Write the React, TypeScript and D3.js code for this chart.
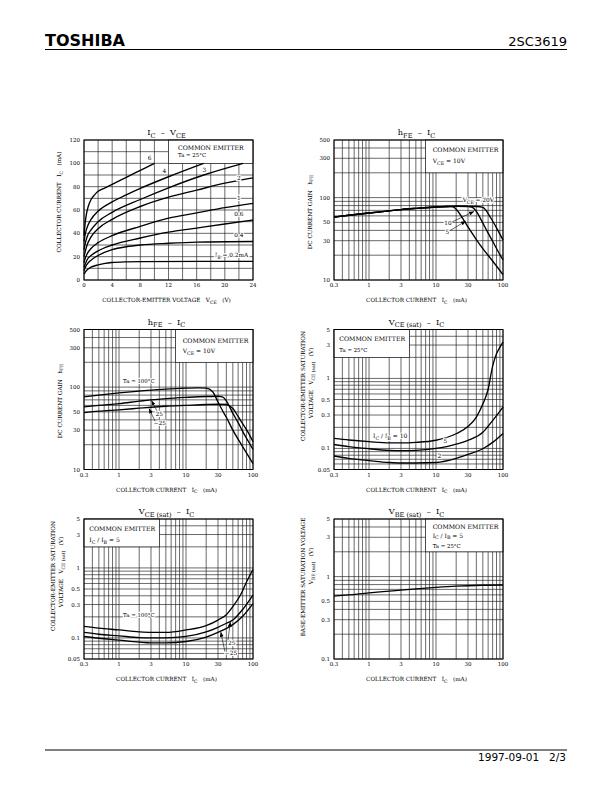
import React from "react";
import * as d3 from "d3";

type Pt = [number, number];
type Part = string | { sub: string };

const SERIF = "'DejaVu Serif', 'Liberation Serif', serif";
const SANS = "'DejaVu Sans', Verdana, sans-serif";

// ---- IC - VCE, points are [VCE (V), IC (mA)] ----
const vceTicks = [0, 4, 8, 12, 16, 20, 24];
const icMaTicks = [0, 20, 40, 60, 80, 100, 120];
const vceGrid = [0, 2, 4, 6, 8, 10, 12, 14, 16, 18, 20, 22, 24];
const icMaGrid = [0, 10, 20, 30, 40, 50, 60, 70, 80, 90, 100, 110, 120];
const ib6: Pt[] = [[0, 38], [0.15, 48], [0.3, 55], [0.6, 63], [1, 69], [1.5, 73], [2, 76], [3, 79], [4, 82], [6, 88], [8, 94], [10, 100]];
const ib4: Pt[] = [[0, 33], [0.2, 40], [0.5, 46], [1, 52], [2, 59], [4, 67], [6, 73], [8, 78.5], [12, 88.5], [17, 100]];
const ib3: Pt[] = [[0, 26], [0.2, 32], [0.5, 38], [1, 43], [2, 50], [4, 58], [8, 69], [12, 79], [17, 90], [22.6, 100]];
const ib2: Pt[] = [[0, 20], [0.2, 25], [0.5, 31], [1, 37], [2, 44], [4, 52], [8, 63], [12, 71], [16, 77], [20, 83], [24, 87.5]];
const ib1: Pt[] = [[0, 15], [0.2, 19], [0.5, 23], [1, 27], [2, 32], [4, 38], [8, 46], [12, 53], [16, 57.5], [20, 62], [24, 65.7]];
const ib06: Pt[] = [[0, 11], [0.2, 14], [0.5, 18], [1, 21], [2, 25], [4, 30], [8, 36], [12, 41], [16, 44.5], [20, 48], [24, 51.4]];
const ib04: Pt[] = [[0, 8], [0.2, 11], [0.5, 14], [1, 17], [2, 21], [4, 26], [6, 28.5], [8, 30], [12, 31.5], [16, 32.5], [24, 33]];
const ib02: Pt[] = [[0, 5], [0.2, 7], [0.5, 9], [1, 11], [2, 13], [3, 14.3], [4, 15], [6, 15.6], [8, 15.8], [24, 16]];

// ---- log axes ----
const icTicks = [0.3, 1, 3, 10, 30, 100];
const icGrid = [0.3, 0.4, 0.5, 0.6, 0.7, 0.8, 0.9, 1, 2, 3, 4, 5, 6, 7, 8, 9, 10, 20, 30, 40, 50, 60, 70, 80, 90, 100];
const hfeTicks = [10, 30, 50, 100, 300, 500];
const hfeGrid = [10, 20, 30, 40, 50, 60, 70, 80, 90, 100, 200, 300, 400, 500];
const vsatTicks = [0.05, 0.1, 0.3, 0.5, 1, 3, 5];
const vsatGrid = [0.05, 0.06, 0.07, 0.08, 0.09, 0.1, 0.2, 0.3, 0.4, 0.5, 0.6, 0.7, 0.8, 0.9, 1, 2, 3, 4, 5];
const vbeTicks = [0.1, 0.3, 0.5, 1, 3, 5];
const vbeGrid = [0.1, 0.2, 0.3, 0.4, 0.5, 0.6, 0.7, 0.8, 0.9, 1, 2, 3, 4, 5];

// hFE - IC by VCE, [IC (mA), hFE]
const hfeVce5: Pt[] = [[0.3, 58], [0.5, 61], [1, 65], [2, 69], [3, 71.5], [5, 74], [10, 77], [15, 78], [18, 77], [20, 72], [25, 56], [30, 44], [40, 31], [50, 24], [70, 17], [100, 11.6]];
const hfeVce10: Pt[] = [[0.3, 58], [0.5, 61], [1, 65], [2, 69], [3, 71.5], [5, 74], [10, 77], [15, 78], [20, 78.5], [30, 78], [35, 76], [40, 68], [50, 49], [60, 37], [70, 29.5], [85, 22], [100, 17.5]];
const hfeVce20: Pt[] = [[0.3, 58], [0.5, 61], [1, 65], [2, 69], [3, 71.5], [5, 74], [10, 77], [15, 78], [20, 78.5], [30, 78.5], [40, 78], [50, 76], [55, 71], [60, 64], [70, 52], [80, 43], [100, 30.6]];

// hFE - IC by Ta
const hfeTa100: Pt[] = [[0.3, 76], [0.5, 80], [1, 85], [2, 89.5], [3, 92], [5, 94.5], [10, 97], [15, 98], [20, 97], [25, 88], [30, 66], [35, 52], [40, 43], [50, 30], [70, 19], [100, 11.8]];
const hfeTa25: Pt[] = [[0.3, 57.5], [0.5, 60], [1, 63], [2, 67.5], [3, 70], [5, 72.5], [10, 75], [20, 77], [30, 77.5], [35, 76], [40, 68], [50, 48], [60, 37], [70, 29], [85, 22], [100, 17.5]];
const hfeTaM25: Pt[] = [[0.3, 49], [0.5, 51], [1, 53], [2, 55.5], [3, 57], [5, 58.5], [10, 60], [20, 61.5], [30, 62], [40, 61.5], [45, 59], [50, 55], [60, 44], [70, 36], [85, 28], [100, 21.7]];

// VCE(sat) - IC by IC/IB, [IC (mA), V]
const vsatR10: Pt[] = [[0.3, 0.139], [0.5, 0.132], [1, 0.125], [2, 0.12], [3, 0.12], [5, 0.122], [10, 0.131], [20, 0.162], [30, 0.205], [40, 0.28], [50, 0.43], [60, 0.7], [70, 1.5], [80, 2.25], [90, 2.8], [100, 3.3]];
const vsatR5: Pt[] = [[0.3, 0.114], [0.5, 0.106], [1, 0.099], [2, 0.094], [3, 0.093], [5, 0.094], [10, 0.1], [15, 0.107], [20, 0.115], [30, 0.13], [50, 0.17], [70, 0.25], [100, 0.39]];
const vsatR2: Pt[] = [[0.3, 0.078], [0.5, 0.072], [1, 0.067], [2, 0.063], [3, 0.062], [5, 0.062], [10, 0.063], [20, 0.072], [30, 0.082], [50, 0.099], [70, 0.122], [100, 0.164]];

// VCE(sat) - IC by Ta (IC/IB = 5)
const vsatTa100: Pt[] = [[0.3, 0.146], [0.5, 0.138], [1, 0.13], [2, 0.122], [3, 0.12], [5, 0.12], [10, 0.13], [20, 0.15], [30, 0.18], [40, 0.215], [50, 0.28], [65, 0.41], [80, 0.63], [100, 0.95]];
const vsatTa25: Pt[] = [[0.3, 0.12], [0.5, 0.113], [1, 0.107], [2, 0.101], [3, 0.1], [5, 0.1], [10, 0.105], [20, 0.122], [30, 0.142], [40, 0.162], [50, 0.18], [70, 0.255], [100, 0.41]];
const vsatTaM25: Pt[] = [[0.3, 0.105], [0.5, 0.099], [1, 0.093], [2, 0.087], [3, 0.085], [5, 0.085], [10, 0.089], [20, 0.103], [30, 0.12], [50, 0.155], [70, 0.204], [100, 0.31]];

// VBE(sat) - IC
const vbeSat: Pt[] = [[0.3, 0.58], [0.5, 0.6], [1, 0.635], [2, 0.665], [3, 0.685], [5, 0.71], [10, 0.74], [20, 0.765], [30, 0.775], [50, 0.785], [100, 0.79]];

interface Label { x: number; y: number; parts: Part[]; anchor?: string; size?: number }
interface Cfg {
  left: number; top: number; w: number; h: number;
  xLog: boolean; yLog: boolean;
  xDomain: [number, number]; yDomain: [number, number];
  xGrid: number[]; yGrid: number[]; xTicks: number[]; yTicks: number[];
  series: Pt[][];
  box: [number, number, number, number];
  legend: { dx: number; lines: { dy: number; parts: Part[]; size: number }[] };
  title: Part[];
  xTitle: Part[];
  yTitle: { dx: number; cy: number; parts: Part[] }[];
  labels: Label[];
  leaders: [number, number, number, number][];
}

function Txt({ x, y, parts, size, anchor = "start", rot = false, family = SERIF, halo = false, weight }: any) {
  const d = size * 0.32;
  let down = false;
  const kids = parts.map((p: Part, i: number) => {
    if (typeof p === "string") {
      const dy = down ? -d : 0;
      down = false;
      return <tspan key={i} dy={dy}>{p}</tspan>;
    }
    const dy = down ? 0 : d;
    down = true;
    return <tspan key={i} dy={dy} fontSize={size * 0.8}>{p.sub}</tspan>;
  });
  return (
    <text x={x} y={y} fontSize={size} textAnchor={anchor} fontFamily={family} fontWeight={weight}
      transform={rot ? `rotate(-90 ${x} ${y})` : undefined}
      stroke={halo ? "#fff" : undefined} strokeWidth={halo ? 2.2 : undefined}
      style={{ whiteSpace: "pre", paintOrder: "stroke" }} fill="#000">
      {kids}
    </text>
  );
}

function Chart({ c }: { c: Cfg }) {
  const x = (c.xLog ? d3.scaleLog() : d3.scaleLinear()).domain(c.xDomain).range([c.left, c.left + c.w]);
  const y = (c.yLog ? d3.scaleLog() : d3.scaleLinear()).domain(c.yDomain).range([c.top + c.h, c.top]);
  const line = d3.line<Pt>().x((d) => x(d[0])).y((d) => y(d[1])).curve(d3.curveMonotoneX);
  const bx0 = x(c.box[0]), bx1 = x(c.box[1]), byTop = y(c.box[3]), byBot = y(c.box[2]);
  const bottom = c.top + c.h;
  const cx = c.left + c.w / 2 - 2;
  return (
    <g>
      {c.xGrid.map((v) => (
        <line key={"gx" + v} x1={x(v)} x2={x(v)} y1={c.top} y2={bottom} stroke="#1a1a1a" strokeWidth={0.65} />
      ))}
      {c.yGrid.map((v) => (
        <line key={"gy" + v} x1={c.left} x2={c.left + c.w} y1={y(v)} y2={y(v)} stroke="#1a1a1a" strokeWidth={0.65} />
      ))}
      <rect x={bx0} y={byTop} width={bx1 - bx0} height={byBot - byTop} fill="#fff" stroke="#1a1a1a" strokeWidth={0.65} />
      <rect x={c.left} y={c.top} width={c.w} height={c.h} fill="none" stroke="#000" strokeWidth={1} />
      {c.series.map((s, i) => (
        <path key={"s" + i} d={line(s) || ""} fill="none" stroke="#000" strokeWidth={1.35} />
      ))}
      {c.leaders.map((l, i) => (
        <line key={"l" + i} x1={x(l[0])} y1={y(l[1])} x2={x(l[2])} y2={y(l[3])} stroke="#000" strokeWidth={0.6} markerEnd="url(#arr)" />
      ))}
      {c.labels.map((l, i) => (
        <Txt key={"t" + i} x={x(l.x)} y={y(l.y)} parts={l.parts} size={l.size || 5.8} anchor={l.anchor || "start"} halo />
      ))}
      {c.legend.lines.map((l, i) => (
        <Txt key={"lg" + i} x={bx0 + c.legend.dx} y={c.top + l.dy} parts={l.parts} size={l.size} />
      ))}
      {c.xTicks.map((v) => (
        <Txt key={"xt" + v} x={x(v)} y={bottom + 7} parts={[String(v)]} size={5.5} anchor="middle" />
      ))}
      {c.yTicks.map((v) => (
        <Txt key={"yt" + v} x={c.left - 4} y={y(v) + 2} parts={[String(v)]} size={5.5} anchor="end" />
      ))}
      <Txt x={cx} y={c.top - 5} parts={c.title} size={8.2} anchor="middle" />
      <Txt x={cx} y={bottom + 22} parts={c.xTitle} size={5.7} anchor="middle" />
      {c.yTitle.map((t, i) => (
        <Txt key={"yl" + i} x={c.left + t.dx} y={t.cy} parts={t.parts} size={5.7} anchor="middle" rot />
      ))}
    </g>
  );
}

const icTitle: Part[] = ["COLLECTOR CURRENT   I", { sub: "C" }, "   (mA)"];
const vsatYTitle = (cy1: number, cy2: number) => [
  { dx: -29.5, cy: cy1, parts: ["COLLECTOR-EMITTER SATURATION"] as Part[] },
  { dx: -21.3, cy: cy2, parts: ["VOLTAGE   V", { sub: "CE (sat)" }, "   (V)"] as Part[] },
];

export default function App() {
  const L = 84, R = 334, W = 169, H = 140;
  const charts: Cfg[] = [
    {
      left: L, top: 140, w: W, h: H, xLog: false, yLog: false,
      xDomain: [0, 24], yDomain: [0, 120], xGrid: vceGrid, yGrid: icMaGrid, xTicks: vceTicks, yTicks: icMaTicks,
      series: [ib6, ib4, ib3, ib2, ib1, ib06, ib04, ib02],
      box: [12, 24, 100, 120],
      legend: { dx: 9.5, lines: [{ dy: 9.5, parts: ["COMMON EMITTER"], size: 6.2 }, { dy: 16.5, parts: ["Ta = 25°C"], size: 5.4 }] },
      title: ["I", { sub: "C" }, "  –  V", { sub: "CE" }],
      xTitle: ["COLLECTOR-EMITTER VOLTAGE   V", { sub: "CE" }, "   (V)"],
      yTitle: [{ dx: -23, cy: 202, parts: icTitle }],
      labels: [
        { x: 9.3, y: 102.5, parts: ["6"], anchor: "middle" },
        { x: 11.4, y: 92, parts: ["4"], anchor: "middle" },
        { x: 17.1, y: 92.5, parts: ["3"], anchor: "middle" },
        { x: 22, y: 86, parts: ["2"], anchor: "middle" },
        { x: 22, y: 69, parts: ["1"], anchor: "middle" },
        { x: 22, y: 55, parts: ["0.6"], anchor: "middle" },
        { x: 22, y: 37, parts: ["0.4"], anchor: "middle" },
        { x: 18.6, y: 20, parts: ["I", { sub: "B" }, " = 0.2mA"] },
      ],
      leaders: [],
    },
    {
      left: R, top: 140, w: W, h: H, xLog: true, yLog: true,
      xDomain: [0.3, 100], yDomain: [10, 500], xGrid: icGrid, yGrid: hfeGrid, xTicks: icTicks, yTicks: hfeTicks,
      series: [hfeVce5, hfeVce10, hfeVce20],
      box: [7, 100, 200, 500],
      legend: { dx: 7, lines: [{ dy: 12.3, parts: ["COMMON EMITTER"], size: 6.2 }, { dy: 22.7, parts: ["V", { sub: "CE" }, " = 10V"], size: 6 }] },
      title: ["h", { sub: "FE" }, "  –  I", { sub: "C" }],
      xTitle: icTitle,
      yTitle: [{ dx: -22.5, cy: 212, parts: ["DC CURRENT GAIN   h", { sub: "FE" }] }],
      labels: [
        { x: 25, y: 89, parts: ["V", { sub: "CE" }, " = 20V"] },
        { x: 13.3, y: 47, parts: ["10"] },
        { x: 13.8, y: 36.2, parts: ["5"] },
      ],
      leaders: [[16.8, 50, 37, 68], [15.5, 39, 28, 52]],
    },
    {
      left: L, top: 329.5, w: W, h: H, xLog: true, yLog: true,
      xDomain: [0.3, 100], yDomain: [10, 500], xGrid: icGrid, yGrid: hfeGrid, xTicks: icTicks, yTicks: hfeTicks,
      series: [hfeTa100, hfeTa25, hfeTaM25],
      box: [7, 100, 200, 500],
      legend: { dx: 7, lines: [{ dy: 13.5, parts: ["COMMON EMITTER"], size: 6.2 }, { dy: 23.8, parts: ["V", { sub: "CE" }, " = 10V"], size: 6 }] },
      title: ["h", { sub: "FE" }, "  –  I", { sub: "C" }],
      xTitle: icTitle,
      yTitle: [{ dx: -22.5, cy: 401, parts: ["DC CURRENT GAIN   h", { sub: "FE" }] }],
      labels: [
        { x: 1.15, y: 113, parts: ["Ta = 100°C"], size: 5.4 },
        { x: 3.5, y: 44.3, parts: ["25"] },
        { x: 3.3, y: 34.5, parts: ["−25"] },
      ],
      leaders: [[3.7, 51, 3.05, 69], [3.45, 38.5, 2.8, 55]],
    },
    {
      left: R, top: 329.5, w: W, h: H, xLog: true, yLog: true,
      xDomain: [0.3, 100], yDomain: [0.05, 5], xGrid: icGrid, yGrid: vsatGrid, xTicks: icTicks, yTicks: vsatTicks,
      series: [vsatR10, vsatR5, vsatR2],
      box: [0.3, 4, 2, 5],
      legend: { dx: 5.3, lines: [{ dy: 11.5, parts: ["COMMON EMITTER"], size: 6.2 }, { dy: 22, parts: ["Ta = 25°C"], size: 5.4 }] },
      title: ["V", { sub: "CE (sat)" }, "  –  I", { sub: "C" }],
      xTitle: icTitle,
      yTitle: vsatYTitle(386, 383),
      labels: [
        { x: 1.15, y: 0.139, parts: ["I", { sub: "C" }, " / I", { sub: "B" }, " = 10"], size: 6 },
        { x: 12.9, y: 0.12, parts: ["5"] },
        { x: 10.5, y: 0.0734, parts: ["2"] },
      ],
      leaders: [],
    },
    {
      left: L, top: 519, w: W, h: H, xLog: true, yLog: true,
      xDomain: [0.3, 100], yDomain: [0.05, 5], xGrid: icGrid, yGrid: vsatGrid, xTicks: icTicks, yTicks: vsatTicks,
      series: [vsatTa100, vsatTa25, vsatTaM25],
      box: [0.3, 4, 2, 5],
      legend: { dx: 5.3, lines: [{ dy: 12, parts: ["COMMON EMITTER"], size: 6.2 }, { dy: 22.7, parts: ["I", { sub: "C" }, " / I", { sub: "B" }, " = 5"], size: 6 }] },
      title: ["V", { sub: "CE (sat)" }, "  –  I", { sub: "C" }],
      xTitle: icTitle,
      yTitle: vsatYTitle(576, 572),
      labels: [
        { x: 1.15, y: 0.199, parts: ["Ta = 100°C"], size: 5.4 },
        { x: 42.5, y: 0.0783, parts: ["25"] },
        { x: 38, y: 0.0577, parts: ["−25"] },
      ],
      leaders: [[42, 0.088, 46, 0.17], [38, 0.064, 33, 0.122]],
    },
    {
      left: R, top: 519, w: W, h: H, xLog: true, yLog: true,
      xDomain: [0.3, 100], yDomain: [0.1, 5], xGrid: icGrid, yGrid: vbeGrid, xTicks: icTicks, yTicks: vbeTicks,
      series: [vbeSat],
      box: [7, 100, 2, 5],
      legend: {
        dx: 7,
        lines: [
          { dy: 9.5, parts: ["COMMON EMITTER"], size: 6.2 },
          { dy: 18.5, parts: ["I", { sub: "C" }, " / I", { sub: "B" }, " = 5"], size: 6 },
          { dy: 28.8, parts: ["Ta = 25°C"], size: 5.4 },
        ],
      },
      title: ["V", { sub: "BE (sat)" }, "  –  I", { sub: "C" }],
      xTitle: icTitle,
      yTitle: [
        { dx: -29.5, cy: 577, parts: ["BASE-EMITTER SATURATION VOLTAGE"] },
        { dx: -21.3, cy: 566, parts: ["V", { sub: "BE (sat)" }, "   (V)"] },
      ],
      labels: [],
      leaders: [],
    },
  ];

  return (
    <svg width={612} height={792} style={{ position: "absolute", left: 0, top: 0, background: "#fff" }}>
      <defs>
        <marker id="arr" markerWidth={5} markerHeight={4} refX={5} refY={2} orient="auto" markerUnits="userSpaceOnUse">
          <path d="M0,0 L5,2 L0,4 Z" fill="#000" />
        </marker>
      </defs>
      <rect width={612} height={792} fill="#fff" />
      <text x={45} y={46} fontFamily={SANS} fontWeight="bold" fontSize={16}>TOSHIBA</text>
      <text x={567} y={46} fontFamily={SANS} fontSize={13} textAnchor="end">2SC3619</text>
      <line x1={45} x2={567} y1={49.5} y2={49.5} stroke="#000" strokeWidth={1} />
      {charts.map((c, i) => (
        <Chart key={i} c={c} />
      ))}
      <line x1={45} x2={567} y1={750} y2={750} stroke="#000" strokeWidth={1} />
      <text x={566} y={761} fontFamily={SANS} fontSize={10.5} textAnchor="end" style={{ whiteSpace: "pre" }}>1997-09-01   2/3</text>
    </svg>
  );
}
